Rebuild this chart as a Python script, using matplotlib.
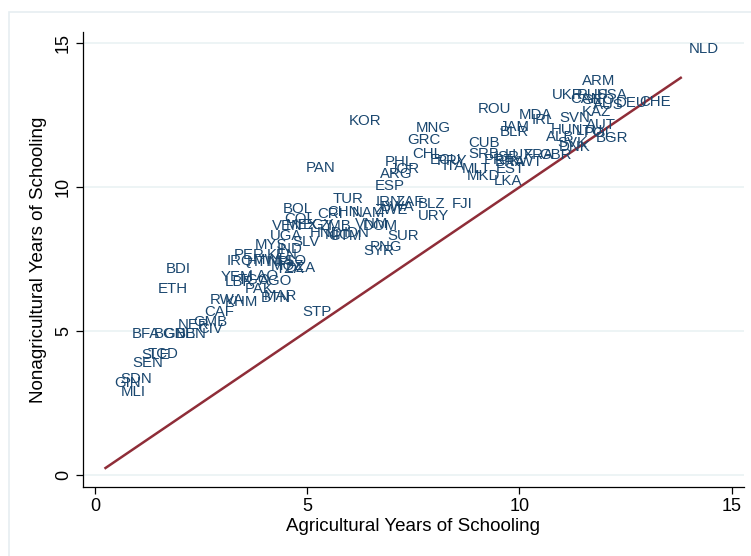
import matplotlib
matplotlib.use("Agg")
import matplotlib.pyplot as plt
from matplotlib.patches import Rectangle

# Country codes with agricultural / nonagricultural average years of schooling
countries = [
    "NLD", "ARM", "UKR", "RUS", "USA", "CAN", "GEO", "AUS", "DEU", "CHE",
    "KAZ", "ROU", "MDA", "IRL", "SVN", "KOR", "MNG", "JAM", "BLR", "AUT",
    "HUN", "LTU", "POL", "ALB", "BGR", "GRC", "CUB", "SVK", "DNK", "SRB",
    "CHL", "ECU", "PRY", "ITA", "MLT", "EST", "MKD", "LKA", "ISR", "BRA",
    "LUX", "FRA", "GBR", "KWT", "PRT", "PHL", "JOR", "ARG", "PAN", "ESP",
    "TUR", "IRN", "ZAF", "BWA", "ZWE", "BLZ", "FJI", "URY", "BOL", "CHN",
    "CRI", "NAM", "COL", "VEN", "MEX", "EGY", "ZMB", "VNM", "DOM", "IDN",
    "HND", "NIC", "GTM", "UGA", "SLV", "SUR", "PNG", "SYR", "MYS", "IND",
    "KEN", "TZA", "IRQ", "PER", "MWI", "NPL", "HTI", "LSO", "MOZ", "BDI",
    "ETH", "LBR", "LAO", "TGO", "AGO", "PAK", "BTN", "MAR", "RWA", "KHM",
    "CAF", "STP", "GMB", "NER", "CIV", "BFA", "BGD", "GNB", "BEN", "TCD",
    "SLE", "SEN", "SDN", "GIN", "MLI", "YEM", "DZA",
]

ag_school = [
    14.35, 11.86, 11.13, 11.73, 12.18, 11.58, 11.86, 12.09, 12.63, 13.20,
    11.81, 9.41, 10.38, 10.57, 11.30, 6.37, 7.97, 9.89, 9.87, 11.92,
    11.13, 11.64, 11.86, 10.96, 12.18, 7.75, 9.16, 11.24, 11.30, 9.16,
    7.84, 8.26, 8.42, 8.45, 8.99, 9.78, 9.16, 9.72, 9.72, 9.78,
    10.00, 10.45, 10.85, 10.17, 9.50, 7.18, 7.30, 7.10, 5.32, 6.94,
    5.97, 6.92, 7.41, 7.13, 6.99, 7.92, 8.65, 7.97, 4.78, 5.86,
    5.55, 6.45, 4.82, 4.53, 4.89, 5.27, 5.66, 6.51, 6.73, 6.17,
    5.44, 5.72, 5.89, 4.51, 4.98, 7.26, 6.85, 6.68, 4.14, 4.59,
    4.42, 4.60, 3.41, 3.63, 4.08, 4.42, 3.86, 4.65, 4.53, 1.97,
    1.83, 3.41, 3.97, 3.74, 4.25, 3.86, 4.25, 4.36, 3.12, 3.46,
    2.93, 5.23, 2.73, 2.33, 2.73, 1.21, 1.77, 2.00, 2.26, 1.60,
    1.43, 1.24, 0.98, 0.76, 0.90, 3.35, 4.85,
]

nonag_school = [
    14.81, 13.70, 13.21, 13.21, 13.21, 13.06, 13.02, 12.86, 12.94, 12.96,
    12.62, 12.72, 12.51, 12.35, 12.41, 12.31, 12.07, 12.10, 11.91, 12.16,
    11.98, 11.95, 11.88, 11.73, 11.70, 11.63, 11.54, 11.54, 11.38, 11.17,
    11.17, 10.93, 10.90, 10.75, 10.64, 10.62, 10.40, 10.22, 11.05, 10.89,
    11.11, 11.11, 11.11, 10.89, 10.93, 10.86, 10.65, 10.47, 10.68, 10.04,
    9.59, 9.48, 9.48, 9.32, 9.22, 9.41, 9.41, 9.01, 9.26, 9.14,
    9.07, 9.10, 8.89, 8.64, 8.68, 8.68, 8.67, 8.73, 8.64, 8.42,
    8.40, 8.33, 8.30, 8.30, 8.09, 8.30, 7.93, 7.80, 8.00, 7.84,
    7.65, 7.17, 7.43, 7.63, 7.47, 7.41, 7.41, 7.43, 7.26, 7.16,
    6.48, 6.70, 6.91, 6.78, 6.75, 6.48, 6.17, 6.21, 6.07, 6.01,
    5.68, 5.68, 5.31, 5.21, 5.09, 4.90, 4.90, 4.90, 4.90, 4.20,
    4.16, 3.89, 3.33, 3.21, 2.90, 6.88, 7.20,
]

# Endpoints of the 45-degree reference line
diag_range = [0.25, 13.8]

x_ticks = [0, 5, 10, 15]
y_ticks = [0, 5, 10, 15]

label_color = "#1a476f"
line_color = "#8f2d38"
grid_color = "#eaf2f3"

W, H = 751, 556
fig = plt.figure(figsize=(W / 100, H / 100), dpi=100)
fig.patch.set_facecolor("white")

# light outer graph-region border
fig.patches.append(Rectangle((9 / W, -0.05), 1.2, 1 - 12 / H + 0.05,
                             transform=fig.transFigure, fill=False,
                             edgecolor="#e6eef1", linewidth=1.2))

ax = fig.add_axes([83 / W, 1 - 487 / H, (744 - 83) / W, (487 - 32) / H])
ax.set_xlim(-0.28, 15.29)
ax.set_ylim(-0.41, 15.39)

for yt in y_ticks:
    ax.axhline(yt, color=grid_color, linewidth=1.2, zorder=0)

ax.plot(diag_range, diag_range, color=line_color, linewidth=1.8, zorder=2)

font = "Liberation Sans"
for name, xv, yv in zip(countries, ag_school, nonag_school):
    ax.text(xv, yv, name, ha="center", va="center", fontsize=10.8,
            color=label_color, family=font, zorder=3)

ax.set_xticks(x_ticks)
ax.set_yticks(y_ticks)
ax.set_xticklabels([str(t) for t in x_ticks], family=font, fontsize=13)
ax.set_yticklabels([str(t) for t in y_ticks], family=font, fontsize=13,
                   rotation=90, va="center")
ax.tick_params(direction="out", length=5, width=0.9, color="black", pad=3)

ax.set_xlabel("Agricultural Years of Schooling", family=font, fontsize=13.5,
              labelpad=2)
ax.set_ylabel("Nonagricultural Years of Schooling", family=font,
              fontsize=13.5, labelpad=6)

for side in ("top", "right"):
    ax.spines[side].set_visible(False)
for side in ("left", "bottom"):
    ax.spines[side].set_linewidth(0.9)

fig.savefig("out.png", dpi=100)
